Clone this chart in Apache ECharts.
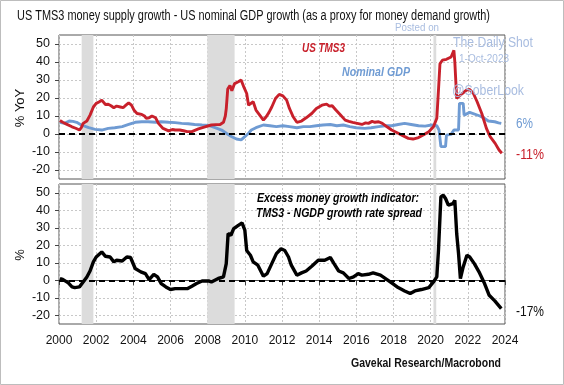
<!DOCTYPE html>
<html><head><meta charset="utf-8">
<script src="https://cdn.jsdelivr.net/npm/echarts@6/dist/echarts.min.js"></script>
<style>html,body{margin:0;padding:0;background:#fff}#c{width:564px;height:385px}</style>
</head><body><div id="c"></div><script>
// ---- data ----
const tms3X = [2000.05,2000.2,2000.4,2000.7,2000.9,2001.1,2001.2,2001.3,2001.5,2001.67,2001.85,2002.0,2002.15,2002.3,2002.5,2002.65,2002.8,2002.95,2003.1,2003.3,2003.45,2003.6,2003.75,2003.9,2004.05,2004.2,2004.45,2004.6,2004.7,2004.85,2005.0,2005.2,2005.35,2005.6,2005.9,2006.1,2006.25,2006.5,2006.7,2006.9,2007.15,2007.5,2007.9,2008.2,2008.45,2008.67,2008.85,2008.95,2009.0,2009.08,2009.2,2009.3,2009.45,2009.65,2009.8,2009.95,2010.1,2010.2,2010.3,2010.45,2010.6,2010.8,2011.0,2011.15,2011.3,2011.45,2011.65,2011.85,2012.05,2012.25,2012.4,2012.6,2012.8,2013.05,2013.3,2013.6,2013.85,2014.15,2014.4,2014.55,2014.7,2014.9,2015.15,2015.4,2015.6,2015.8,2016.05,2016.3,2016.5,2016.65,2016.85,2017.0,2017.2,2017.4,2017.65,2017.9,2018.2,2018.5,2018.8,2019.05,2019.35,2019.6,2019.9,2020.15,2020.33,2020.42,2020.5,2020.63,2020.85,2021.1,2021.25,2021.3,2021.4,2021.5,2021.7,2021.93,2022.1,2022.3,2022.5,2022.75,2023.0,2023.2,2023.47,2023.68,2023.83];
const tms3Y = [7.5,6.5,5.5,4,3.2,2.2,3.5,5.9,7.2,10.5,15,17,17.8,18.8,16.4,16.5,15.7,14.6,15.5,15,14.6,16,17.3,16,13,11.4,10.9,10,8.7,9,10,9,5.9,3.1,1.7,2.5,2.2,2.2,1.8,1.3,1.3,2.8,4.1,5,5.2,5.3,6.5,10,14,25,27,24,28,29,30,26,22.5,16,15,17.9,13.3,10.5,7.7,9.6,12,15,19.7,22,21.2,18.8,14.2,9.6,6.5,7.2,9,11.4,14.2,16,16.6,15.5,15.7,13.3,10.5,7.7,7,6.5,5.9,5.3,6.2,5.9,7,6.5,6.8,5.9,4,2.2,0.7,-0.9,-2.4,-2.8,-2,-0.6,1.3,4,8.7,24.4,39,41,41.5,42.8,46.5,40,19.7,18.8,22.5,24.4,24.7,22.5,17.9,11.4,3.1,-1.5,-5.2,-8.9,-10.7];

const ngdpX = [2000.05,2000.3,2000.55,2000.75,2000.95,2001.2,2001.6,2001.95,2002.3,2002.65,2003.0,2003.4,2003.75,2004.1,2004.45,2004.8,2005.2,2005.5,2005.9,2006.25,2006.6,2006.95,2007.3,2007.7,2008.05,2008.4,2008.75,2009.0,2009.3,2009.55,2009.8,2010.0,2010.2,2010.35,2010.6,2011.0,2011.35,2011.7,2012.05,2012.4,2012.8,2013.15,2013.5,2013.85,2014.2,2014.6,2014.95,2015.3,2015.65,2016.0,2016.45,2016.8,2017.2,2017.55,2017.9,2018.25,2018.6,2018.95,2019.35,2019.7,2020.05,2020.33,2020.45,2020.55,2020.8,2020.85,2021.1,2021.25,2021.5,2021.55,2021.75,2021.8,2022.1,2022.15,2022.65,2022.9,2023.1,2023.45,2023.65,2023.8];
const ngdpY = [6.5,5.9,7.2,7,6.5,5,3.5,2.6,2.2,3.1,3.5,4.1,5.3,6.5,6.8,6.8,6.5,6.8,6.5,6.3,5.9,5.7,5.3,5,4.8,3.5,2.2,0.4,-1.5,-2.8,-3.3,-1.5,0.4,2.2,3.5,5,4.6,4.1,4.6,4.1,3.5,4.1,4.1,4.6,5,5.3,4.6,5,4.1,3.5,3.1,3.5,4.1,4.6,4.6,5.3,5.9,5.3,4.6,4.4,5,4.6,2.2,-7,-7,-0.6,-0.2,2.2,2.2,17,17,10.5,12,10.9,10,8.7,7.2,6.8,6.2,5.9];

const spreadX = [2000.05,2000.2,2000.35,2000.5,2000.7,2000.85,2001.1,2001.3,2001.5,2001.67,2001.85,2002.0,2002.3,2002.5,2002.75,2002.95,2003.1,2003.4,2003.65,2003.85,2004.1,2004.4,2004.65,2004.85,2005.1,2005.3,2005.5,2005.75,2006.0,2006.25,2006.6,2006.9,2007.15,2007.4,2007.7,2008.05,2008.2,2008.57,2008.85,2009.0,2009.1,2009.25,2009.4,2009.65,2009.85,2010.0,2010.1,2010.3,2010.45,2010.7,2011.0,2011.2,2011.45,2011.7,2011.95,2012.15,2012.35,2012.5,2012.8,2013.05,2013.3,2013.6,2013.95,2014.3,2014.6,2014.8,2015.05,2015.3,2015.6,2015.85,2016.1,2016.3,2016.65,2016.9,2017.3,2017.65,2017.9,2018.25,2018.6,2018.9,2019.15,2019.5,2019.9,2020.15,2020.33,2020.42,2020.55,2020.68,2020.8,2020.95,2021.2,2021.3,2021.4,2021.5,2021.6,2021.75,2021.95,2022.1,2022.35,2022.6,2022.9,2023.15,2023.45,2023.8];
const spreadY = [1,0.5,-0.5,-1.5,-3.8,-4.2,-3.8,-1,1.9,5.3,10.5,13.3,16.2,13.7,13.3,10.5,11.4,11,13.3,13,6.7,4.8,3.8,0.4,3.4,1.9,-1.9,-3.8,-5.3,-4.8,-4.8,-4.8,-3.4,-1.9,-0.4,-0.4,-1,1,1.9,9.5,26.7,25.7,29.5,31.4,32.8,28.6,17,14.3,10.5,8.6,2.3,3.8,9.5,15.2,18,17,13.3,8.6,2.9,4.2,5.3,8,11.4,11.4,13,9.5,5.3,4.2,1,1.9,3.8,2.9,3.4,4.2,2.9,0.4,-1.5,-4.2,-6.1,-7.6,-6.1,-5.3,-4.2,-1,1.9,17,47.6,48.6,46.7,42.9,43.8,45.7,26.7,15.2,1,7.6,14.3,13.3,9.5,4.8,-1.9,-8.6,-11.8,-16.2];

const recessions = [[2001.22, 2001.85], [2007.98, 2009.45], [2020.15, 2020.3]];
const yTicks = [-20, -10, 0, 10, 20, 30, 40, 50];

// ---- chart ----
const RED = '#c8202b', BLUE = '#6f9bd3', BLACK = '#000', WM = '#a9bde0';
const FONT = '"Liberation Sans", Arial, sans-serif';
const pairs = (xs, ys) => xs.map((x, i) => [x, ys[i]]);
const shade = recessions.map(r => [{ xAxis: r[0] }, { xAxis: r[1] }]);
const zeroLine = { silent: true, symbol: 'none', label: { show: false }, z: 5,
  lineStyle: { color: '#000', type: [6, 4], width: 1.8 }, data: [{ yAxis: 0 }] };
const areaDef = { silent: true, itemStyle: { color: '#dcdcdc' }, data: shade };

function xAx(i, labels) {
  return { gridIndex: i, type: 'value', min: 2000, max: 2024, interval: 2,
    axisLine: { show: labels, lineStyle: { color: '#444' } },
    axisTick: { show: labels, length: 5, lineStyle: { color: '#444' } },
    axisLabel: { show: labels, fontSize: 12, color: '#111', margin: 11, fontFamily: FONT, formatter: v => String(v) },
    splitLine: { show: true, lineStyle: { color: '#c8c8c8', type: [2, 2] } } };
}
function yAx(i) {
  return { gridIndex: i, type: 'value', min: -25, max: 55,
    axisLine: { show: false },
    axisTick: { show: true, length: 4, inside: false, customValues: yTicks, lineStyle: { color: '#444' } },
    axisLabel: { show: true, fontSize: 12.5, color: '#111', margin: 9, fontFamily: FONT, customValues: yTicks },
    splitLine: { show: true, lineStyle: { color: '#c8c8c8', type: [2, 2] } } };
}

const mctx = document.createElement('canvas').getContext('2d');
// text squeezed horizontally to the width it takes in the reference
function fit(x, y, text, font, fill, align, targetW, extra) {
  mctx.font = font;
  const w = mctx.measureText(text).width;
  const s = targetW ? targetW / w : 1;
  return Object.assign({ type: 'text', x, y, scaleX: s, silent: true, z: 100,
    style: { text, font, fill, align: align || 'left', verticalAlign: 'middle' } }, extra || {});
}

const chart = echarts.init(document.getElementById('c'), null, { renderer: 'canvas' });

chart.setOption({
  animation: false,
  backgroundColor: '#fff',
  grid: [
    { left: 59, top: 35, width: 446, height: 144, show: true, borderColor: '#555', borderWidth: 1, backgroundColor: 'transparent' },
    { left: 59, top: 184, width: 446, height: 140, show: true, borderColor: '#555', borderWidth: 1, backgroundColor: 'transparent' }
  ],
  xAxis: [xAx(0, false), xAx(1, true)],
  yAxis: [yAx(0), yAx(1)],
  series: [
    { type: 'line', xAxisIndex: 0, yAxisIndex: 0, data: [], markArea: areaDef, z: 0 },
    { type: 'line', xAxisIndex: 0, yAxisIndex: 0, data: pairs(ngdpX, ngdpY), showSymbol: false,
      lineStyle: { color: BLUE, width: 2.9 }, z: 3 },
    { type: 'line', xAxisIndex: 0, yAxisIndex: 0, data: pairs(tms3X, tms3Y), showSymbol: false,
      lineStyle: { color: RED, width: 2.9 }, markLine: zeroLine, z: 4 },
    { type: 'line', xAxisIndex: 1, yAxisIndex: 1, data: [], markArea: areaDef, z: 0 },
    { type: 'line', xAxisIndex: 1, yAxisIndex: 1, data: pairs(spreadX, spreadY), showSymbol: false,
      lineStyle: { color: BLACK, width: 3.4 }, markLine: zeroLine, z: 4 }
  ],
  graphic: [
    { type: 'rect', shape: { x: 0.5, y: 0.5, width: 563, height: 384 }, style: { fill: 'none', stroke: '#bdbdbd', lineWidth: 1 }, silent: true },
    fit(17, 16, 'US TMS3 money supply growth - US nominal GDP growth (as a proxy for money demand growth)', '14px ' + FONT, '#111', 'left', 473),
    fit(20, 108, '% YoY', '13px ' + FONT, '#111', 'center', 0, { rotation: Math.PI / 2 }),
    fit(20, 255, '%', '13px ' + FONT, '#111', 'center', 0, { rotation: Math.PI / 2 }),
    fit(302, 48, 'US TMS3', 'italic bold 13px ' + FONT, RED, 'left', 43),
    fit(342, 72, 'Nominal GDP', 'italic bold 13px ' + FONT, BLUE, 'left', 68),
    fit(419, 198, 'Excess money growth indicator:', 'italic bold 13px ' + FONT, '#000', 'right', 162),
    fit(422, 213, 'TMS3 - NGDP growth rate spread', 'italic bold 13px ' + FONT, '#000', 'right', 166),
    fit(516, 124, '6%', '14px ' + FONT, BLUE, 'left', 17),
    fit(516, 155, '-11%', '14px ' + FONT, RED, 'left', 28),
    fit(516, 312, '-17%', '14px ' + FONT, '#111', 'left', 28),
    fit(501, 363, 'Gavekal Research/Macrobond', 'bold 13px ' + FONT, '#111', 'right', 150),
    fit(395, 28, 'Posted on', '10px ' + FONT, WM, 'left', 44),
    fit(453, 43, 'The Daily Shot', '14px ' + FONT, WM, 'left', 80),
    fit(459, 59, '1-Oct-2023', '11px ' + FONT, WM, 'left', 50),
    fit(452, 91, '@SoberLook', '14px ' + FONT, WM, 'left', 72)
  ]
});
</script></body></html>
